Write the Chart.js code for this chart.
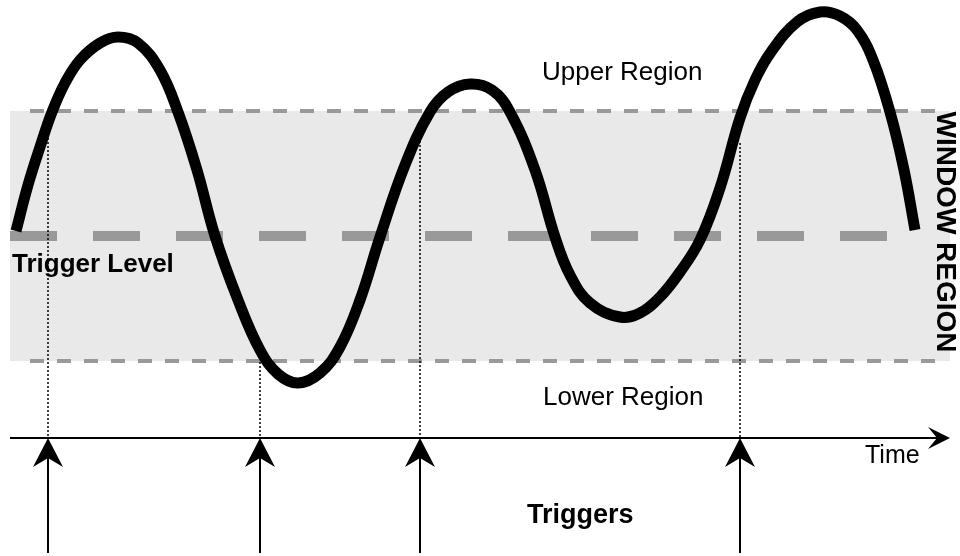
<!DOCTYPE html>
<html lang="en">
<head>
  <meta charset="UTF-8">
  <title>Window Trigger</title>
  <script src="https://cdn.jsdelivr.net/npm/chart.js"></script>
  <style>
    body {
      margin: 0;
      background: #fff;
    }
    .chart-box {
      width: 960px;
      height: 556px;
    }
  </style>
</head>
<body>
  <div class="chart-box"><canvas id="trigChart"></canvas></div>

  <script>
    // signal (time, signal; trigger level = 0, window = +/-125)
    const curveTime   = [16, 28, 40, 52, 65, 80, 100, 118, 138, 160, 178, 197, 215, 238, 260, 278, 298,
                         320, 340, 360, 380, 405, 430, 448, 470, 492, 510, 535, 555, 570, 590, 620,
                         640, 660, 680, 700, 720, 740, 755, 771, 797, 820, 840, 857, 873, 890, 904, 915];
    const curveSignal = [5, 51, 89, 124, 153, 176, 193, 199, 193, 166, 124, 66, 0, -64, -114, -138, -147,
                         -137, -111, -64, -1, 71, 124, 144, 152, 146, 124, 66, -1, -39, -67, -81,
                         -77, -61, -36, -4, 48, 118, 156, 184, 214, 224, 220, 206, 176, 124, 66, 6];

    const windowUpper = 125;
    const windowLower = -125;
    const triggerLevel = 0;
    const timeAxisLevel = -202;
    const arrowBottom = -317;

    // trigger instants and where the dotted marker leaves the curve
    const triggerTimes = [48, 260, 420, 740];
    const triggerFrom  = [98, -126, 99, 93];

    const datasets = [];

    datasets.push({
      data: curveTime.map((t, i) => ({ x: t, y: curveSignal[i] })),
      borderColor: '#000',
      borderWidth: 11,
      borderCapStyle: 'butt',
      tension: 0.4,
      pointRadius: 0,
      order: 0
    });

    // window bounds
    [windowUpper, windowLower].forEach(v => {
      datasets.push({
        data: [{ x: 30, y: v }, { x: 935, y: v }],
        borderColor: '#999',
        borderWidth: 4,
        borderDash: [14, 13],
        pointRadius: 0,
        order: 3
      });
    });

    // trigger level
    datasets.push({
      data: [{ x: 10, y: triggerLevel }, { x: 915, y: triggerLevel }],
      borderColor: '#999',
      borderWidth: 10,
      borderDash: [47, 36],
      pointRadius: 0,
      order: 2
    });

    // dotted markers + trigger arrows
    triggerTimes.forEach((t, i) => {
      datasets.push({
        data: [{ x: t, y: triggerFrom[i] }, { x: t, y: timeAxisLevel }],
        borderColor: '#000',
        borderWidth: 1.5,
        borderDash: [2, 2],
        pointRadius: 0,
        order: 1
      });
      datasets.push({
        data: [{ x: t, y: arrowBottom }, { x: t, y: timeAxisLevel - 15 }],
        borderColor: '#000',
        borderWidth: 2,
        pointRadius: 0,
        order: 1
      });
    });

    // time axis
    datasets.push({
      data: [{ x: 10, y: timeAxisLevel }, { x: 940, y: timeAxisLevel }],
      borderColor: '#000',
      borderWidth: 2,
      pointRadius: 0,
      order: 1
    });

    const FONT = "'Liberation Sans', Arial, sans-serif";

    const decor = {
      id: 'decor',
      beforeDatasetsDraw(chart) {
        const { ctx, scales: { x, y } } = chart;
        ctx.save();
        // window band
        ctx.fillStyle = '#e9e9e9';
        const top = y.getPixelForValue(windowUpper);
        const bot = y.getPixelForValue(windowLower);
        ctx.fillRect(x.getPixelForValue(10), top, x.getPixelForValue(950) - x.getPixelForValue(10), bot - top);

        ctx.fillStyle = '#000';
        ctx.textBaseline = 'alphabetic';
        ctx.textAlign = 'left';
        ctx.font = 'bold 26px ' + FONT;
        ctx.fillText('Trigger Level', x.getPixelForValue(12), y.getPixelForValue(-36));
        ctx.font = 'bold 27px ' + FONT;
        ctx.fillText('Triggers', x.getPixelForValue(527), y.getPixelForValue(-287));

        ctx.font = '26px ' + FONT;
        ctx.fillText('Upper Region', x.getPixelForValue(542), y.getPixelForValue(156));
        ctx.fillText('Lower Region', x.getPixelForValue(543), y.getPixelForValue(-169));
        ctx.font = '25px ' + FONT;
        ctx.fillText('Time', x.getPixelForValue(865), y.getPixelForValue(-227));

        // vertical label
        ctx.translate(x.getPixelForValue(945), (top + bot) / 2 - 4);
        ctx.rotate(Math.PI / 2);
        ctx.textAlign = 'center';
        ctx.textBaseline = 'middle';
        ctx.font = 'bold 28px ' + FONT;
        ctx.fillText('WINDOW REGION', 0, 0);
        ctx.restore();
      },
      afterDatasetsDraw(chart) {
        const { ctx, scales: { x, y } } = chart;
        ctx.save();
        ctx.fillStyle = '#000';
        const tipY = y.getPixelForValue(timeAxisLevel);
        triggerTimes.forEach(t => {
          const px = x.getPixelForValue(t);
          ctx.beginPath();
          ctx.moveTo(px, tipY);
          ctx.lineTo(px + 15, tipY + 29);
          ctx.lineTo(px, tipY + 20);
          ctx.lineTo(px - 15, tipY + 29);
          ctx.closePath();
          ctx.fill();
        });
        // time axis arrow head
        const tipX = x.getPixelForValue(950);
        ctx.beginPath();
        ctx.moveTo(tipX, tipY);
        ctx.lineTo(tipX - 22, tipY - 11);
        ctx.lineTo(tipX - 13, tipY);
        ctx.lineTo(tipX - 22, tipY + 11);
        ctx.closePath();
        ctx.fill();
        ctx.restore();
      }
    };

    new Chart(document.getElementById('trigChart'), {
      type: 'line',
      data: { datasets: datasets },
      options: {
        responsive: true,
        maintainAspectRatio: false,
        animation: false,
        layout: { padding: 0 },
        plugins: {
          legend: { display: false },
          tooltip: { enabled: false }
        },
        scales: {
          x: { type: 'linear', min: 0, max: 960, display: false },
          y: { type: 'linear', min: -320, max: 236, display: false }
        }
      },
      plugins: [decor]
    });
  </script>
</body>
</html>
